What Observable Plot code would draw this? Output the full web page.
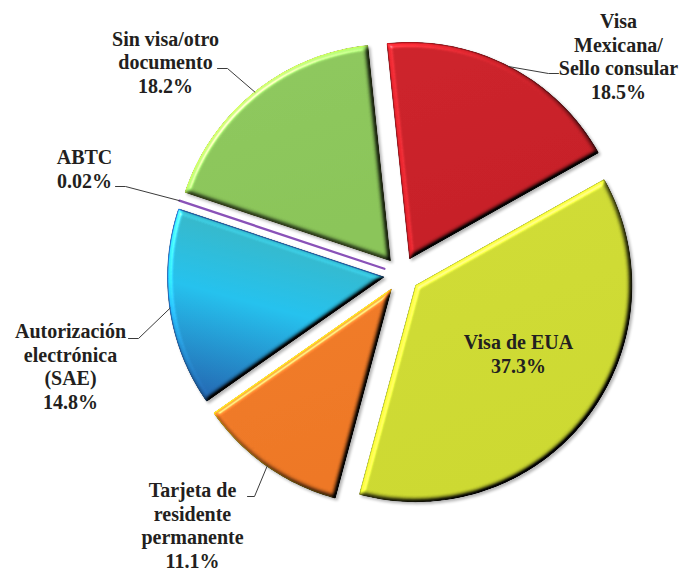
<!DOCTYPE html>
<html>
<head>
<meta charset="utf-8">
<script src="https://cdn.jsdelivr.net/npm/d3@7"></script>
<script src="https://cdn.jsdelivr.net/npm/@observablehq/plot@0.6"></script>
<style>
  html, body { margin: 0; padding: 0; background: #ffffff; }
  #chart svg { display: block; }
</style>
</head>
<body>
<div id="chart"></div>
<script>
// ---- data ----
const categories = ["Visa Mexicana/Sello consular", "Visa de EUA", "Tarjeta de residente permanente", "Autorización electrónica (SAE)", "ABTC", "Sin visa/otro documento"];
const shares = [18.5, 37.3, 11.1, 14.8, 0.02, 18.2];
const labelLines = [
  ["Visa", "Mexicana/", "Sello consular"],
  ["Visa de EUA"],
  ["Tarjeta de", "residente", "permanente"],
  ["Autorización", "electrónica", "(SAE)"],
  ["ABTC"],
  ["Sin visa/otro", "documento"]
];
const pctLabels = ["18.5%", "37.3%", "11.1%", "14.8%", "0.02%", "18.2%"];

// ---- styles / layout ----
const W = 686, H = 571;
const CX = 401, CY = 274, R = 216, EXPLODE = 18, START = -6;
const baseFills = ["#c92028", "#cfdb33", "#ef7a27", "#27c2ee", "none", "#8cc65b"];
const gradFills = ["url(#gRed)", "url(#gEua)", "url(#gOrange)", "url(#gBlue)", null, "url(#gGreen)"];
const strokes = ["#8f1218", "#9ea520", "#f3b10f", "#1c5fa6", "#8a52b8", "#a0cc44"];
const labelLayout = [
  {x: 618, y: 98, pts: [[548, 73], [558, 73]]},
  {x: 518, y: 372, pts: null},
  {x: 192, y: 567, pts: [[254, 496], [247, 496]]},
  {x: 70, y: 408, pts: [[138, 338], [128, 338]]},
  {x: 84, y: 187, pts: [[125, 186], [115, 186]]},
  {x: 165, y: 92, pts: [[227, 68], [217, 68]]}
];

const total = d3.sum(shares);
const rad = a => a * Math.PI / 180;
let acc = START;
const slices = shares.map((v, i) => {
  const a0 = acc, a1 = acc + v / total * 360;
  acc = a1;
  const mid = (a0 + a1) / 2;
  const ox = CX + EXPLODE * Math.sin(rad(mid)), oy = CY - EXPLODE * Math.cos(rad(mid));
  const pts = [{x: ox, y: oy}];
  const n = Math.max(2, Math.ceil((a1 - a0) / 1));
  for (let k = 0; k <= n; k++) {
    const a = a0 + (a1 - a0) * k / n;
    pts.push({x: ox + R * Math.sin(rad(a)), y: oy - R * Math.cos(rad(a))});
  }
  pts.push({x: ox, y: oy});
  const edge = {x: ox + R * Math.sin(rad(mid)), y: oy - R * Math.cos(rad(mid))};
  return {i, a0, a1, mid, pts, edge};
});

const marks = [];
const sliceOrder = [];
slices.forEach((s, i) => {
  if (i === 4) return;
  sliceOrder.push(i);
  marks.push(Plot.line(s.pts, {x: "x", y: "y", fill: baseFills[i], stroke: strokes[i], strokeWidth: 1.2, strokeLinejoin: "miter"}));
});
// ABTC: hairline slice
marks.push(Plot.line(slices[4].pts, {x: "x", y: "y", stroke: strokes[4], strokeWidth: 2.2}));

// leader lines
const leaders = [];
labelLayout.forEach((L, i) => {
  if (!L.pts) return;
  const s = slices[i];
  leaders.push({id: i, x: s.edge.x, y: s.edge.y});
  L.pts.forEach(p => leaders.push({id: i, x: p[0], y: p[1]}));
});
marks.push(Plot.line(leaders, {x: "x", y: "y", z: "id", stroke: "#3b3b3b", strokeWidth: 1}));

// labels
const texts = labelLayout.map((L, i) => ({x: L.x, y: L.y, text: labelLines[i].concat([pctLabels[i]]).join("\n")}));
marks.push(Plot.text(texts, {
  x: "x", y: "y", text: "text", textAnchor: "middle", lineAnchor: "bottom", lineHeight: 1.175,
  fontFamily: "'Liberation Serif', 'DejaVu Serif', serif", fontWeight: "bold", fontSize: 20, fill: "#231f20"
}));

const svg = Plot.plot({
  width: W, height: H, margin: 0,
  x: {domain: [0, W], range: [0, W], axis: null},
  y: {domain: [0, H], range: [0, H], axis: null},
  style: {background: "#ffffff", overflow: "hidden"},
  marks
});

// defs: gradients & bevel filter
const defs = `
<defs>
  <linearGradient id="gRed" x1="0" y1="0" x2="0.3" y2="1">
    <stop offset="0" stop-color="#cc232b"/><stop offset="1" stop-color="#c41e26"/>
  </linearGradient>
  <linearGradient id="gEua" x1="0" y1="0" x2="0.3" y2="1">
    <stop offset="0" stop-color="#cfdb36"/><stop offset="1" stop-color="#cbd730"/>
  </linearGradient>
  <linearGradient id="gOrange" x1="0" y1="0" x2="0.3" y2="1">
    <stop offset="0" stop-color="#ef7b29"/><stop offset="1" stop-color="#ec7624"/>
  </linearGradient>
  <linearGradient id="gBlue" x1="0.4" y1="0" x2="0.1" y2="1">
    <stop offset="0" stop-color="#3bb4bd"/><stop offset="0.45" stop-color="#24c0ec"/><stop offset="1" stop-color="#2360ac"/>
  </linearGradient>
  <linearGradient id="gGreen" x1="0" y1="0" x2="0.3" y2="1">
    <stop offset="0" stop-color="#8dc75e"/><stop offset="1" stop-color="#89c358"/>
  </linearGradient>
  <filter id="bevel" x="-10%" y="-10%" width="120%" height="120%" color-interpolation-filters="sRGB">
    <feGaussianBlur in="SourceAlpha" stdDeviation="2.5" result="b"/>
    <feDiffuseLighting in="b" surfaceScale="4" diffuseConstant="1" lighting-color="#ffffff" result="d">
      <feDistantLight azimuth="225" elevation="45"/>
    </feDiffuseLighting>
    <feComposite in="SourceGraphic" in2="d" operator="arithmetic" k1="1.414" k2="0" k3="0" k4="0" result="lit"/>
    <feSpecularLighting in="b" surfaceScale="4" specularConstant="0.7" specularExponent="40" lighting-color="#ffffff" result="s">
      <feDistantLight azimuth="225" elevation="40"/>
    </feSpecularLighting>
    <feComposite in="s" in2="SourceAlpha" operator="in" result="s2"/>
    <feComposite in="lit" in2="s2" operator="arithmetic" k1="0" k2="1" k3="0.5" k4="0" result="lit2"/>
    <feComposite in="lit2" in2="SourceAlpha" operator="in" result="final"/>
    <feGaussianBlur in="SourceAlpha" stdDeviation="1.5" result="sb"/>
    <feOffset in="sb" dx="1.5" dy="2" result="so"/>
    <feComponentTransfer in="so" result="sh"><feFuncA type="linear" slope="0.3"/></feComponentTransfer>
    <feMerge><feMergeNode in="sh"/><feMergeNode in="final"/></feMerge>
  </filter>
</defs>`;
svg.insertAdjacentHTML("afterbegin", defs);
const lineGroups = d3.select(svg).selectAll("g[aria-label=line]").nodes();
sliceOrder.forEach((si, k) => {
  const g = lineGroups[k];
  if (!g) return;
  d3.select(g).attr("fill", gradFills[si]).attr("filter", "url(#bevel)");
  d3.select(g).selectAll("path").attr("fill", null);
});

document.getElementById("chart").appendChild(svg);
</script>
</body>
</html>
